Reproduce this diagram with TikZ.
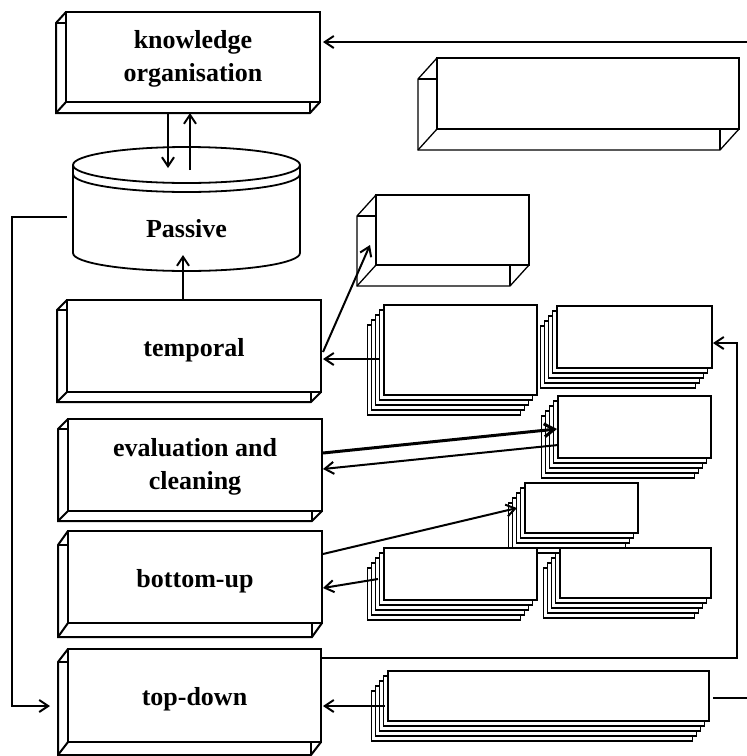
\documentclass[tikz,border=0pt]{standalone}
\usepackage{fontspec}
\setmainfont{Liberation Serif}
\usetikzlibrary{calc,arrows.meta}

% side and bottom faces of an extruded box: node, depth to the left, depth downwards
\newcommand\drawslab[4]{%
  \draw[#4] (#1.north west) -- ++(-#2,#3) |- ($(#1.south east)+(-#2,#3)$) -- (#1.south east);
  \draw[#4] (#1.south west) -- ++(-#2,#3);
  \draw[#4] ($(#1.north west)+(-#2,#3)$) -- ++(#2,0);
  \draw[#4] ($(#1.south east)+(-#2,#3)$) -- ++(0,-#3);
}
% pile of sheets behind a front sheet: name, centre x, centre y, width, height
\newcommand\drawpile[5]{%
  \foreach \k in {4,3,2,1}
    \draw[sheet] ({#2-#4/2-4.2*\k},{#3-#5/2+5*\k}) rectangle ({#2+#4/2-4.2*\k},{#3+#5/2+5*\k});
  \node[sheet, minimum width=#4pt, minimum height=#5pt] (#1) at (#2,#3) {};
}

\tikzset{
  slabfront/.style={draw, line width=2pt, fill=white, inner sep=0pt, outer sep=0pt},
  stagetext/.style={align=center, inner sep=0pt, font=\fontsize{26}{33}\selectfont\bfseries},
  slabside/.style={line width=2pt, line join=miter},
  boxfront/.style={draw, line width=1.3pt, fill=white, inner sep=0pt, outer sep=0pt},
  boxside/.style={line width=1.3pt},
  sheet/.style={draw, line width=1.2pt, fill=white, inner sep=0pt, outer sep=0pt},
  cylline/.style={line width=1.8pt},
  arr/.style={line width=2pt, -{Straight Barb[length=9pt,width=12pt]}},
  thickarr/.style={line width=3pt, -{Straight Barb[length=10pt,width=13pt]}},
  plain/.style={line width=2pt},
}

\begin{document}
\begin{tikzpicture}[x=1pt,y=-1pt]
\useasboundingbox (0,0) rectangle (747,756);

% main processing stages
\node[slabfront, minimum width=254pt, minimum height=90pt] (ko) at (193,57) {};
\drawslab{ko}{10}{11}{slabside}
\node[stagetext] (kotext) at ($(ko.center)+(0,2)$) {knowledge\\organisation};

\node[slabfront, minimum width=254pt, minimum height=92pt] (temporal) at (194,346) {};
\drawslab{temporal}{10}{10}{slabside}
\node[stagetext] (temporaltext) at ($(temporal.center)+(0,4)$) {temporal};

\node[slabfront, minimum width=254pt, minimum height=92pt] (eval) at (195,465) {};
\drawslab{eval}{10}{10}{slabside}
\node[stagetext] (evaltext) at ($(eval.center)+(0,2)$) {evaluation and\\cleaning};

\node[slabfront, minimum width=254pt, minimum height=92pt] (bottomup) at (195,577) {};
\drawslab{bottomup}{10}{14}{slabside}
\node[stagetext] (bottomuptext) at ($(bottomup.center)+(0,4)$) {bottom-up};

\node[slabfront, minimum width=253pt, minimum height=93pt] (topdown) at (194.5,695.5) {};
\drawslab{topdown}{10}{13}{slabside}
\node[stagetext] (topdowntext) at ($(topdown.center)+(0,4)$) {top-down};

% passive store
\node[minimum width=227pt, minimum height=125pt, inner sep=0pt, outer sep=0pt] (cyl) at (186.5,209.5) {};
\draw[cylline] (73,165) -- (73,253) arc[start angle=180, end angle=360, x radius=113.5pt, y radius=18pt] -- (300,165);
\draw[cylline] (186.5,165) ellipse [x radius=113.5pt, y radius=18pt];
\draw[cylline] (73,174) arc[start angle=180, end angle=360, x radius=113.5pt, y radius=18pt];
\node[stagetext] (passive) at (186.5,229) {Passive};

% empty extruded boxes
\node[boxfront, minimum width=302pt, minimum height=71pt] (rboxa) at (588,93.5) {};
\drawslab{rboxa}{19}{21}{boxside}
\node[boxfront, minimum width=153pt, minimum height=70pt] (rboxb) at (452.5,230) {};
\drawslab{rboxb}{19}{21}{boxside}

% piles of sheets
\drawpile{sa}{460.5}{350}{153}{90}
\drawpile{sb}{634.5}{337}{155}{62}
\drawpile{sc}{634.5}{427}{153}{62}
\drawpile{sd}{581.5}{508}{113}{50}
\drawpile{se}{460.5}{574}{153}{52}
\drawpile{sf}{635.5}{573}{151}{50}
\drawpile{sg}{548.5}{696}{321}{50}

% free ends at the right margin
\coordinate (feedin) at (747,42);
\coordinate (feedout) at (747,698);

% connectors
\draw[arr] (feedin) -- ($(ko.east)+(3,-15)$);
\draw[arr] ($(ko.south)+(-25,11)$) -- ($(cyl.north)+(-18.5,21)$);
\draw[arr] ($(cyl.north)+(3.5,23)$) -- ($(ko.south)+(-3,11)$);
\draw[arr] ($(temporal.north)+(-11,0)$) -- ($(cyl.south)+(-3.5,-17)$);
\draw[arr] ($(cyl.west)+(-6,7.5)$) -| ($(topdown.west)+(-56,10.5)$) -- ($(topdown.west)+(-18,10.5)$);
\draw[arr] ($(temporal.east)+(2,6)$) -- ($(rboxb.west)+(-6,15)$);
\draw[arr] ($(sa.west)+(-4,9)$) -- ($(temporal.east)+(2,13)$);
\draw[thickarr] ($(eval.east)+(1,-12)$) -- ($(sc.west)+(-1,2)$);
\draw[arr] ($(sc.west)+(0,18)$) -- ($(eval.east)+(1,4)$);
\draw[arr] ($(bottomup.east)+(1,-23)$) -- ($(sd.west)+(-8,0)$);
\draw[arr] ($(se.west)+(-6,5)$) -- ($(bottomup.east)+(1,11)$);
\draw[arr] ($(sg.west)+(-3,10)$) -- ($(topdown.east)+(2,10.5)$);
\draw[plain] ($(sg.east)+(4,2)$) -- (feedout);
\draw[arr] ($(topdown.east)+(0,-37.5)$) -| ($(sb.east)+(25,6)$) -- ($(sb.east)+(1,6)$);
\end{tikzpicture}
\end{document}
